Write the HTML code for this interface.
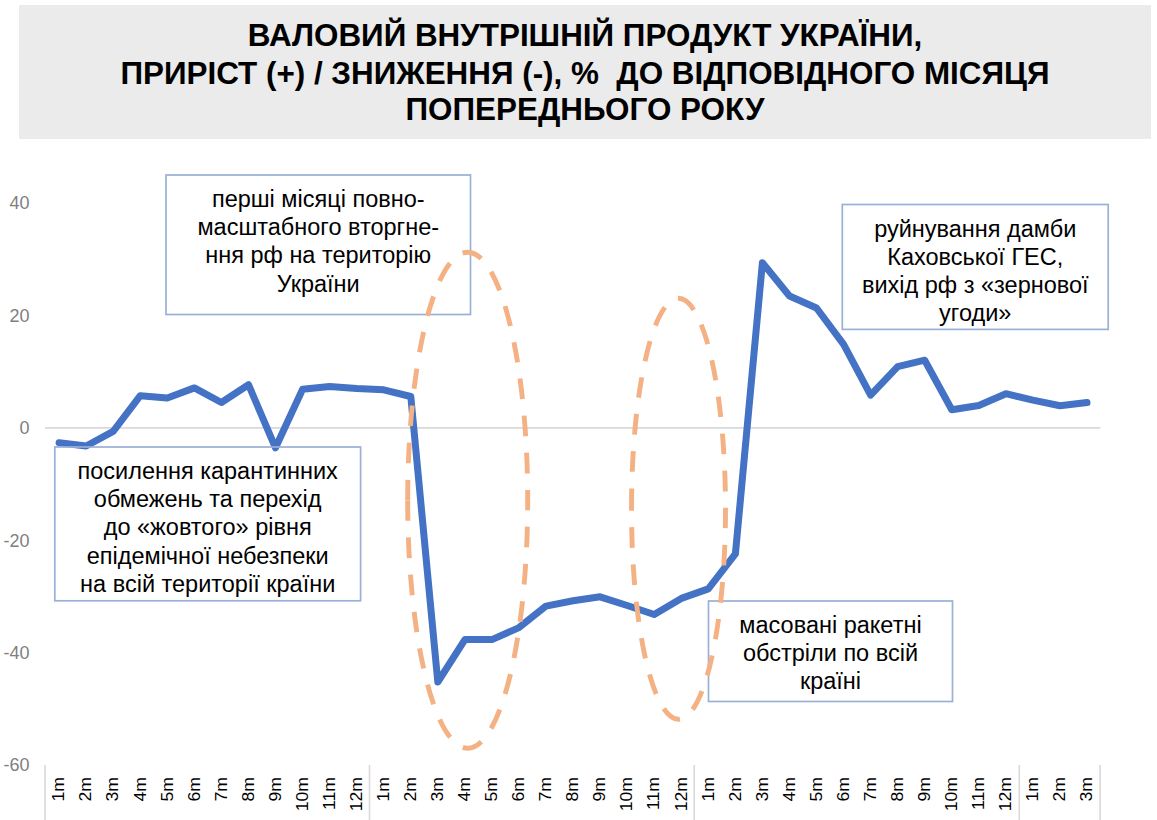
<!DOCTYPE html>
<html><head><meta charset="utf-8"><style>
html,body{margin:0;padding:0;background:#fff;width:1157px;height:820px;overflow:hidden}
svg{display:block;font-family:"Liberation Sans",sans-serif}
</style></head><body>
<svg width="1157" height="820" viewBox="0 0 1157 820">
<rect x="19" y="5" width="1132" height="134" fill="#EBEBEB"/>
<g font-weight="bold" font-size="31.4" text-anchor="middle" fill="#000">
<text x="585" y="46.2">ВАЛОВИЙ ВНУТРІШНІЙ ПРОДУКТ УКРАЇНИ,</text>
<text x="585" y="83.6" xml:space="preserve">ПРИРІСТ (+) / ЗНИЖЕННЯ (-), %  ДО ВІДПОВІДНОГО МІСЯЦЯ</text>
<text x="585" y="119.8">ПОПЕРЕДНЬОГО РОКУ</text>
</g>
<g font-size="18" fill="#7F7F7F" text-anchor="end">
<text x="29.5" y="209.4">40</text>
<text x="29.5" y="321.8">20</text>
<text x="29.5" y="434.2">0</text>
<text x="29.5" y="546.6">-20</text>
<text x="29.5" y="659">-40</text>
<text x="29.5" y="771.4">-60</text>
</g>
<line x1="45" y1="427.9" x2="1100.3" y2="427.9" stroke="#D9D9D9" stroke-width="1.8"/>
<g stroke="#D9D9D9" stroke-width="1.6"><line x1="45" y1="765" x2="45" y2="820"/><line x1="369.5" y1="765" x2="369.5" y2="820"/><line x1="694.2" y1="765" x2="694.2" y2="820"/><line x1="1019.3" y1="765" x2="1019.3" y2="820"/><line x1="1100.1" y1="765" x2="1100.1" y2="820"/></g>
<g font-size="16" fill="#000">
<text transform="translate(64.3,777) rotate(-90) scale(1.1,1)" text-anchor="end">1m</text>
<text transform="translate(91.4,777) rotate(-90) scale(1.1,1)" text-anchor="end">2m</text>
<text transform="translate(118.4,777) rotate(-90) scale(1.1,1)" text-anchor="end">3m</text>
<text transform="translate(145.5,777) rotate(-90) scale(1.1,1)" text-anchor="end">4m</text>
<text transform="translate(172.5,777) rotate(-90) scale(1.1,1)" text-anchor="end">5m</text>
<text transform="translate(199.6,777) rotate(-90) scale(1.1,1)" text-anchor="end">6m</text>
<text transform="translate(226.6,777) rotate(-90) scale(1.1,1)" text-anchor="end">7m</text>
<text transform="translate(253.7,777) rotate(-90) scale(1.1,1)" text-anchor="end">8m</text>
<text transform="translate(280.7,777) rotate(-90) scale(1.1,1)" text-anchor="end">9m</text>
<text transform="translate(307.8,777) rotate(-90) scale(1.1,1)" text-anchor="end">10m</text>
<text transform="translate(334.8,777) rotate(-90) scale(1.1,1)" text-anchor="end">11m</text>
<text transform="translate(361.9,777) rotate(-90) scale(1.1,1)" text-anchor="end">12m</text>
<text transform="translate(388.9,777) rotate(-90) scale(1.1,1)" text-anchor="end">1m</text>
<text transform="translate(416.0,777) rotate(-90) scale(1.1,1)" text-anchor="end">2m</text>
<text transform="translate(443.0,777) rotate(-90) scale(1.1,1)" text-anchor="end">3m</text>
<text transform="translate(470.1,777) rotate(-90) scale(1.1,1)" text-anchor="end">4m</text>
<text transform="translate(497.1,777) rotate(-90) scale(1.1,1)" text-anchor="end">5m</text>
<text transform="translate(524.2,777) rotate(-90) scale(1.1,1)" text-anchor="end">6m</text>
<text transform="translate(551.2,777) rotate(-90) scale(1.1,1)" text-anchor="end">7m</text>
<text transform="translate(578.3,777) rotate(-90) scale(1.1,1)" text-anchor="end">8m</text>
<text transform="translate(605.3,777) rotate(-90) scale(1.1,1)" text-anchor="end">9m</text>
<text transform="translate(632.4,777) rotate(-90) scale(1.1,1)" text-anchor="end">10m</text>
<text transform="translate(659.4,777) rotate(-90) scale(1.1,1)" text-anchor="end">11m</text>
<text transform="translate(686.5,777) rotate(-90) scale(1.1,1)" text-anchor="end">12m</text>
<text transform="translate(713.5,777) rotate(-90) scale(1.1,1)" text-anchor="end">1m</text>
<text transform="translate(740.6,777) rotate(-90) scale(1.1,1)" text-anchor="end">2m</text>
<text transform="translate(767.6,777) rotate(-90) scale(1.1,1)" text-anchor="end">3m</text>
<text transform="translate(794.7,777) rotate(-90) scale(1.1,1)" text-anchor="end">4m</text>
<text transform="translate(821.7,777) rotate(-90) scale(1.1,1)" text-anchor="end">5m</text>
<text transform="translate(848.8,777) rotate(-90) scale(1.1,1)" text-anchor="end">6m</text>
<text transform="translate(875.8,777) rotate(-90) scale(1.1,1)" text-anchor="end">7m</text>
<text transform="translate(902.9,777) rotate(-90) scale(1.1,1)" text-anchor="end">8m</text>
<text transform="translate(929.9,777) rotate(-90) scale(1.1,1)" text-anchor="end">9m</text>
<text transform="translate(957.0,777) rotate(-90) scale(1.1,1)" text-anchor="end">10m</text>
<text transform="translate(984.0,777) rotate(-90) scale(1.1,1)" text-anchor="end">11m</text>
<text transform="translate(1011.1,777) rotate(-90) scale(1.1,1)" text-anchor="end">12m</text>
<text transform="translate(1038.1,777) rotate(-90) scale(1.1,1)" text-anchor="end">1m</text>
<text transform="translate(1065.2,777) rotate(-90) scale(1.1,1)" text-anchor="end">2m</text>
<text transform="translate(1092.2,777) rotate(-90) scale(1.1,1)" text-anchor="end">3m</text>
</g>
<polyline points="59.1,442.8 86.2,446.0 113.2,431.4 140.3,395.7 167.3,398.0 194.4,387.9 221.4,402.5 248.5,384.7 275.5,447.8 302.6,389.3 329.6,386.5 356.7,388.5 383.7,389.8 410.8,396.5 437.8,682.0 464.9,639.6 491.9,639.6 519.0,627.6 546.0,606.1 573.1,600.8 600.1,596.8 627.2,605.5 654.2,614.5 681.3,598.4 708.3,588.9 735.4,553.9 762.4,262.8 789.5,296.0 816.5,308.0 843.6,344.3 870.6,395.2 897.7,366.7 924.7,360.2 951.8,409.7 978.8,405.5 1005.9,393.7 1032.9,400.1 1060.0,405.8 1087.0,402.6" fill="none" stroke="#4472C4" stroke-width="7" stroke-linejoin="round" stroke-linecap="round"/>
<g fill="none" stroke="#9AB0D8" stroke-width="1.7"><rect x="166" y="175" width="304.5" height="139.5"/><rect x="54.8" y="447" width="305.8" height="153.79999999999995"/><rect x="842.3" y="204.5" width="265.9000000000001" height="124.89999999999998"/><rect x="708.5" y="601" width="244.0" height="100.5"/></g>
<g font-size="23.5" text-anchor="middle" fill="#000"><text x="318.25" y="206.9">перші місяці повно-</text><text x="318.25" y="235.1">масштабного вторгне-</text><text x="318.25" y="263.3">ння рф на територію</text><text x="318.25" y="291.5">України</text><text x="207.70000000000002" y="478.8">посилення карантинних</text><text x="207.70000000000002" y="507.1">обмежень та перехід</text><text x="207.70000000000002" y="535.3">до «жовтого» рівня</text><text x="207.70000000000002" y="563.5">епідемічної небезпеки</text><text x="207.70000000000002" y="591.8">на всій території країни</text><text x="975.25" y="237.3">руйнування дамби</text><text x="975.25" y="265.3">Каховської ГЕС,</text><text x="975.25" y="293.3">вихід рф з «зернової</text><text x="975.25" y="321.3">угоди»</text><text x="830.5" y="632.5">масовані ракетні</text><text x="830.5" y="660.7">обстріли по всій</text><text x="830.5" y="688.9">країні</text></g>
<g fill="none" stroke="#F4B183" stroke-width="4.9" stroke-dasharray="20.6 16.5">
<path d="M407.7,500.2 A60,248 0 0 1 467.7,252.2 A60,248 0 0 1 527.7,500.2 A60,248 0 0 1 467.7,748.2 A60,248 0 0 1 407.7,500.2"/>
<path d="M631.5,508.8 A47,210.5 0 0 1 678.5,298.3 A47,210.5 0 0 1 725.5,508.8 A47,210.5 0 0 1 678.5,719.3 A47,210.5 0 0 1 631.5,508.8"/>
</g>
</svg>
</body></html>
